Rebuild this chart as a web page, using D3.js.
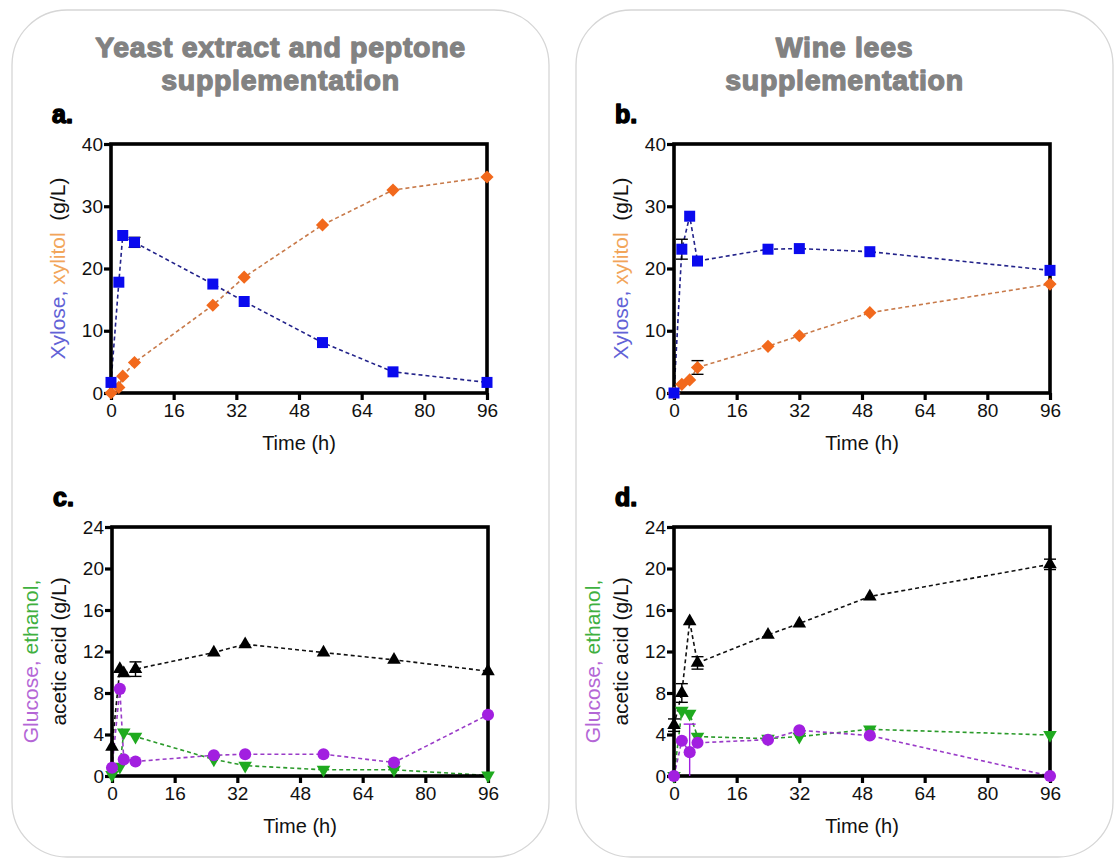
<!DOCTYPE html>
<html>
<head>
<meta charset="utf-8">
<script src="https://cdn.jsdelivr.net/npm/d3@7"></script>
<style>
body{margin:0;background:#fff;}
svg{display:block;font-family:"Liberation Sans",Arial,sans-serif;}
</style>
</head>
<body>
<svg id="chart" width="1115" height="858"></svg>
<script>
// ---------- DATA ----------
const xTicks = [0,16,32,48,64,80,96];
const yTicksTop = [0,10,20,30,40];
const yTicksBottom = [0,4,8,12,16,20,24];

// Panel a (yeast extract & peptone)
const timeA = [0,2,3,6,26,34,54,72,96];
const xyloseA = [1.7,17.8,25.3,24.2,17.5,14.7,8.1,3.4,1.7];
const xyloseAErr = [0,0,0,0.8,0,0,0,0,0];
const xylitolA = [0,0.9,2.7,4.9,14.1,18.6,27.0,32.6,34.7];
const xylitolAErr = [0,0,0,0,0,0,0,0,0];

// Panel b (wine lees)
const timeB = [0,2,4,6,24,32,50,96];
const xyloseB = [0,23.1,28.4,21.2,23.1,23.2,22.7,19.7];
const xyloseBErr = [0,1.6,0,0,0,0,0,0];
const xylitolB = [0,1.4,2.1,4.1,7.5,9.2,12.9,17.5];
const xylitolBErr = [0,0,0,1.1,0,0,0,0];

// Panel c (yeast extract & peptone)
const aceticC = [2.8,10.3,9.9,10.3,11.9,12.7,11.9,11.2,10.1];
const aceticCErr = [0,0,0,0.7,0,0,0,0,0];
const ethanolC = [0.1,0.9,4.2,3.8,1.6,1.0,0.6,0.6,0.05];
const glucoseC = [0.8,8.4,1.6,1.4,2.0,2.1,2.1,1.3,5.9];

// Panel d (wine lees)
const aceticD = [4.9,8.0,14.9,10.9,13.6,14.7,17.3,20.4];
const aceticDErr = [0.6,0.9,0,0.6,0,0,0,0.5];
const ethanolD = [0,6.3,6.0,3.8,3.6,3.8,4.5,3.95];
const glucoseD = [0,3.4,2.3,3.2,3.5,4.4,3.9,0];
const glucoseDErr = [0,0,2.7,0,0,0,0,0];

const titles = [["Yeast extract and peptone","supplementation"],["Wine lees","supplementation"]];

// ---------- STYLES ----------
const C = {
  blue:"#0a0aee", blueLine:"#22228a",
  orange:"#f2691c", orangeLine:"#c87a4a",
  purple:"#a21fe0", purpleLine:"#9a3cc8",
  green:"#1faa1f", greenLine:"#2a9a2a",
  black:"#000", blackLine:"#111",
  lblBlue:"#6262d6", lblOrange:"#f2a55a", lblPurple:"#b466d6", lblGreen:"#3fb03f"
};

const svg = d3.select("#chart");

// containers
[[12,537],[576,537]].forEach(([x,w])=>{
  svg.append("rect").attr("x",x).attr("y",10).attr("width",w).attr("height",847)
    .attr("rx",55).attr("ry",55).attr("fill","none").attr("stroke","#d6d6d6").attr("stroke-width",1.3);
});

// titles
[[280.5,titles[0]],[844.5,titles[1]]].forEach(([cx,lines])=>{
  lines.forEach((t,i)=>{
    svg.append("text").attr("x",cx).attr("y",57+i*33).attr("text-anchor","middle")
      .attr("font-size",28.5).attr("font-weight","bold").attr("fill","#828282")
      .attr("letter-spacing",0.7)
      .attr("stroke","#828282").attr("stroke-width",1.3).attr("stroke-linejoin","round").text(t);
  });
});

const symbols = {
  square: d3.symbol().type(d3.symbolSquare).size(121),
  circle: d3.symbol().type(d3.symbolCircle).size(115),
  triUp: d3.symbol().type(d3.symbolTriangle).size(80),
};
const diamondPath = "M0,-6.6L6.6,0L0,6.6L-6.6,0Z";

function drawPanel(cfg){
  const g = svg.append("g");
  const x = d3.scaleLinear().domain([0,96]).range([cfg.x0,cfg.x1]);
  const y = d3.scaleLinear().domain([0,cfg.ymax]).range([cfg.y1,cfg.y0]);

  // panel label
  svg.append("text").attr("x",cfg.x0-59).attr("y",cfg.y0-21).attr("font-size",25)
    .attr("font-weight","bold").attr("stroke","#000").attr("stroke-width",1.5)
    .attr("stroke-linejoin","round").text(cfg.label);

  // series lines
  cfg.series.forEach(s=>{
    const line = d3.line().x((d,i)=>x(cfg.time[i])).y(d=>y(d));
    g.append("path").attr("d",line(s.values)).attr("fill","none")
      .attr("stroke",s.line).attr("stroke-width",1.6).attr("stroke-dasharray","4,3");
  });

  // axes
  const xAxis = d3.axisBottom(x).tickValues(xTicks).tickSize(7).tickPadding(4);
  const yAxis = d3.axisLeft(y).tickValues(cfg.yticks).tickSize(7).tickPadding(1);
  const gx = g.append("g").attr("transform",`translate(0,${cfg.y1})`).call(xAxis);
  const gy = g.append("g").attr("transform",`translate(${cfg.x0},0)`).call(yAxis);
  [gx,gy].forEach(a=>{
    a.select(".domain").remove();
    a.selectAll(".tick line").attr("stroke","#000").attr("stroke-width",3.2);
    a.selectAll(".tick text").attr("font-size",19).attr("fill","#111")
      .attr("font-family","'Liberation Sans',Arial,sans-serif");
  });
  // frame
  g.append("rect").attr("x",cfg.x0).attr("y",cfg.y0).attr("width",cfg.x1-cfg.x0)
    .attr("height",cfg.y1-cfg.y0).attr("fill","none").attr("stroke","#000").attr("stroke-width",3.6);

  // x axis title
  svg.append("text").attr("x",(cfg.x0+cfg.x1)/2).attr("y",cfg.y1+57).attr("text-anchor","middle")
    .attr("font-size",20).attr("fill","#111").text("Time (h)");

  // y axis title (multi-colour)
  const cy = (cfg.y0+cfg.y1)/2;
  cfg.ylabel.forEach((lineParts)=>{
    const t = svg.append("text").attr("transform",`translate(${cfg.x0-46+lineParts.dx},${cy+(lineParts.dy||0)}) rotate(-90)`)
      .attr("text-anchor","middle").attr("font-size",21);
    lineParts.parts.forEach(p=>{
      t.append("tspan").attr("fill",p.c).attr("xml:space","preserve").text(p.t);
    });
  });

  // error bars and markers
  cfg.series.forEach(s=>{
    if(s.err){
      s.values.forEach((v,i)=>{
        const e = s.err[i];
        if(!e) return;
        const xx = x(cfg.time[i]);
        const lo = y(Math.max(0,v-e)), hi = y(v+e);
        g.append("line").attr("x1",xx).attr("x2",xx).attr("y1",lo).attr("y2",hi)
          .attr("stroke",s.errColor||"#000").attr("stroke-width",1.4);
        [hi, (v-e>0?lo:null)].forEach(yy=>{
          if(yy===null) return;
          g.append("line").attr("x1",xx-6).attr("x2",xx+6).attr("y1",yy).attr("y2",yy)
            .attr("stroke",s.errColor||"#000").attr("stroke-width",1.4);
        });
      });
    }
    g.selectAll(null).data(s.values).enter().append("path")
      .attr("d",s.sym==="diamond"?diamondPath:symbols[s.sym==="triDown"?"triUp":s.sym]())
      .attr("transform",(d,i)=>`translate(${x(cfg.time[i])},${y(d)})${s.sym==="triDown"?" rotate(180)":""}`)
      .attr("fill",s.color);
  });
}

const labelTop = [{dx:0, parts:[{t:"Xylose, ",c:C.lblBlue},{t:"xylitol ",c:C.lblOrange},{t:" (g/L)",c:"#111"}]}];
const labelBottom = [
  {dx:-28, dy:10, parts:[{t:"Glucose, ",c:C.lblPurple},{t:"ethanol,",c:C.lblGreen}]},
  {dx:0, parts:[{t:"acetic acid (g/L)",c:"#111"}]}
];

drawPanel({label:"a.",x0:111,x1:487,y0:144,y1:393,ymax:40,yticks:yTicksTop,time:timeA,ylabel:labelTop,
  series:[
    {values:xylitolA,err:xylitolAErr,sym:"diamond",color:C.orange,line:C.orangeLine},
    {values:xyloseA,err:xyloseAErr,sym:"square",color:C.blue,line:C.blueLine},
  ]});
drawPanel({label:"b.",x0:674,x1:1050,y0:144,y1:393,ymax:40,yticks:yTicksTop,time:timeB,ylabel:labelTop,
  series:[
    {values:xylitolB,err:xylitolBErr,sym:"diamond",color:C.orange,line:C.orangeLine},
    {values:xyloseB,err:xyloseBErr,sym:"square",color:C.blue,line:C.blueLine},
  ]});
drawPanel({label:"c.",x0:112,x1:488,y0:527,y1:776,ymax:24,yticks:yTicksBottom,time:timeA,ylabel:labelBottom,
  series:[
    {values:aceticC,err:aceticCErr,sym:"triUp",color:C.black,line:C.blackLine},
    {values:ethanolC,sym:"triDown",color:C.green,line:C.greenLine},
    {values:glucoseC,sym:"circle",color:C.purple,line:C.purpleLine},
  ]});
drawPanel({label:"d.",x0:674,x1:1050,y0:527,y1:776,ymax:24,yticks:yTicksBottom,time:timeB,ylabel:labelBottom,
  series:[
    {values:aceticD,err:aceticDErr,sym:"triUp",color:C.black,line:C.blackLine},
    {values:ethanolD,sym:"triDown",color:C.green,line:C.greenLine},
    {values:glucoseD,err:glucoseDErr,errColor:C.purple,sym:"circle",color:C.purple,line:C.purpleLine},
  ]});
</script>
</body>
</html>
